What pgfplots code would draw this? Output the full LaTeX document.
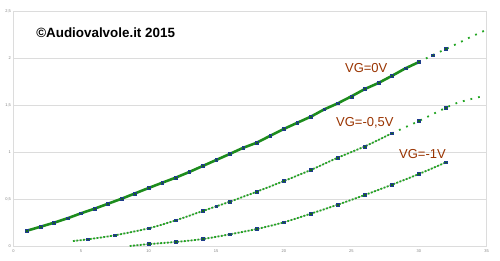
\documentclass[border=0pt]{standalone}
\usepackage{pgfplots}
\pgfplotsset{compat=1.18}
\usepackage{fontspec}
\setmainfont{Liberation Sans}
\definecolor{lgreen}{RGB}{34,165,34}
\definecolor{mnavy}{RGB}{30,60,140}
\definecolor{lbrown}{RGB}{153,51,0}
\definecolor{gridc}{RGB}{220,220,220}
\begin{document}
\begin{tikzpicture}
\useasboundingbox (0,0) rectangle (500pt,260pt);
\begin{axis}[
  at={(13.5pt,14pt)}, anchor=south west,
  scale only axis, width=473pt, height=235pt,
  xmin=0, xmax=35, ymin=0, ymax=2.5,
  xtick={0,5,...,35}, ytick={0,0.5,...,2.5},
  ymajorgrids, major grid style={gridc, line width=0.8pt},
  axis line style={gridc, line width=0.8pt},
  major tick length=0pt,
  tick label style={font=\fontsize{4}{4}\selectfont, text=gray},
  /pgf/number format/assume math mode=true,
  /pgf/number format/use comma,
  yticklabel style={xshift=1pt},
  clip=false,
]
% VG=0 solid line
\addplot[lgreen!85!black, line width=2.6pt, no marks] coordinates {
(1,0.163)(2,0.205)(3,0.248)(4,0.295)(5,0.348)(6,0.397)(7,0.450)(8,0.503)(9,0.560)(10,0.617)
(11,0.673)(12,0.727)(13,0.787)(14,0.851)(15,0.915)(16,0.979)(17,1.045)(18,1.099)(19,1.173)(20,1.245)
(21,1.311)(22,1.376)(23,1.454)(24,1.518)(25,1.592)(26,1.670)(27,1.734)(28,1.810)(29,1.890)(30,1.957)};
\addplot[lgreen, line width=1.8pt, dash pattern=on 1.8pt off 6pt, no marks, smooth] coordinates {
(30,1.957)(31,2.030)(32,2.096)(33,2.165)(34,2.235)(35,2.300)};
% VG=-0.5 dotted
\addplot[black!30, line width=0.7pt, no marks, smooth] coordinates {
(4.4,0.053)(5.5,0.071)(7.5,0.114)(10,0.188)(12,0.273)(14,0.372)(15,0.422)(16,0.471)(18,0.578)(20,0.691)
(22,0.809)(24,0.940)(26,1.060)(28,1.199)};
\addplot[lgreen, line width=1.8pt, dash pattern=on 1.8pt off 1.6pt, no marks, smooth] coordinates {
(4.4,0.053)(5.5,0.071)(7.5,0.114)(10,0.188)(12,0.273)(14,0.372)(15,0.422)(16,0.471)(18,0.578)(20,0.691)
(22,0.809)(24,0.940)(26,1.060)(28,1.199)};
\addplot[lgreen, line width=1.8pt, dash pattern=on 1.8pt off 6pt, no marks, smooth] coordinates {
(28,1.199)(30,1.330)(32,1.471)(33,1.530)(34.6,1.590)};
% VG=-1 dotted
\addplot[black!30, line width=0.7pt, no marks, smooth] coordinates {
(8.6,0.0)(10,0.020)(12,0.043)(14,0.074)(16,0.124)(18,0.181)(20,0.252)(22,0.344)(24,0.440)(26,0.543)
(28,0.652)(30,0.766)(32,0.890)};
\addplot[lgreen, line width=1.8pt, dash pattern=on 1.8pt off 1.6pt, no marks, smooth] coordinates {
(8.6,0.0)(10,0.020)(12,0.043)(14,0.074)(16,0.124)(18,0.181)(20,0.252)(22,0.344)(24,0.440)(26,0.543)
(28,0.652)(30,0.766)(32,0.890)};
% markers
\addplot[only marks, mark=square*, mark size=1.4pt, mark options={draw=mnavy, fill=black!35!lgreen, line width=0.5pt}] coordinates {
(1,0.163)(2,0.205)(3,0.248)(4,0.295)(5,0.348)(6,0.397)(7,0.450)(8,0.503)(9,0.560)(10,0.617)
(11,0.673)(12,0.727)(13,0.787)(14,0.851)(15,0.915)(16,0.979)(17,1.045)(18,1.099)(19,1.173)(20,1.245)
(21,1.311)(22,1.376)(23,1.454)(24,1.518)(25,1.592)(26,1.670)(27,1.734)(28,1.810)(29,1.890)(30,1.957)
(31,2.030)(32,2.096)};
\addplot[only marks, mark=square*, mark size=1.4pt, mark options={draw=mnavy, fill=black!35!lgreen, line width=0.5pt}] coordinates {
(5.5,0.071)(7.5,0.114)(10,0.188)(12,0.273)(14,0.372)(15,0.422)(16,0.471)(18,0.578)(20,0.691)
(22,0.809)(24,0.940)(26,1.060)(28,1.199)(30,1.330)(32,1.471)};
\addplot[only marks, mark=square*, mark size=1.4pt, mark options={draw=mnavy, fill=black!35!lgreen, line width=0.5pt}] coordinates {
(10,0.020)(12,0.043)(14,0.074)(16,0.124)(18,0.181)(20,0.252)(22,0.344)(24,0.440)(26,0.543)
(28,0.652)(30,0.766)(32,0.890)};
\node[anchor=west, inner sep=0pt, font=\fontsize{13.4}{14}\selectfont\bfseries] at (axis cs:1.67,2.266) {©Audiovalvole.it 2015};
\node[inner sep=0pt, text=lbrown, font=\fontsize{13}{14}\selectfont] at (axis cs:26.1,1.894) {VG=0V};
\node[inner sep=0pt, text=lbrown, font=\fontsize{13}{14}\selectfont] at (axis cs:26.0,1.309) {VG=-0,5V};
\node[inner sep=0pt, text=lbrown, font=\fontsize{13}{14}\selectfont] at (axis cs:30.26,0.979) {VG=-1V};
\end{axis}
\end{tikzpicture}
\end{document}
